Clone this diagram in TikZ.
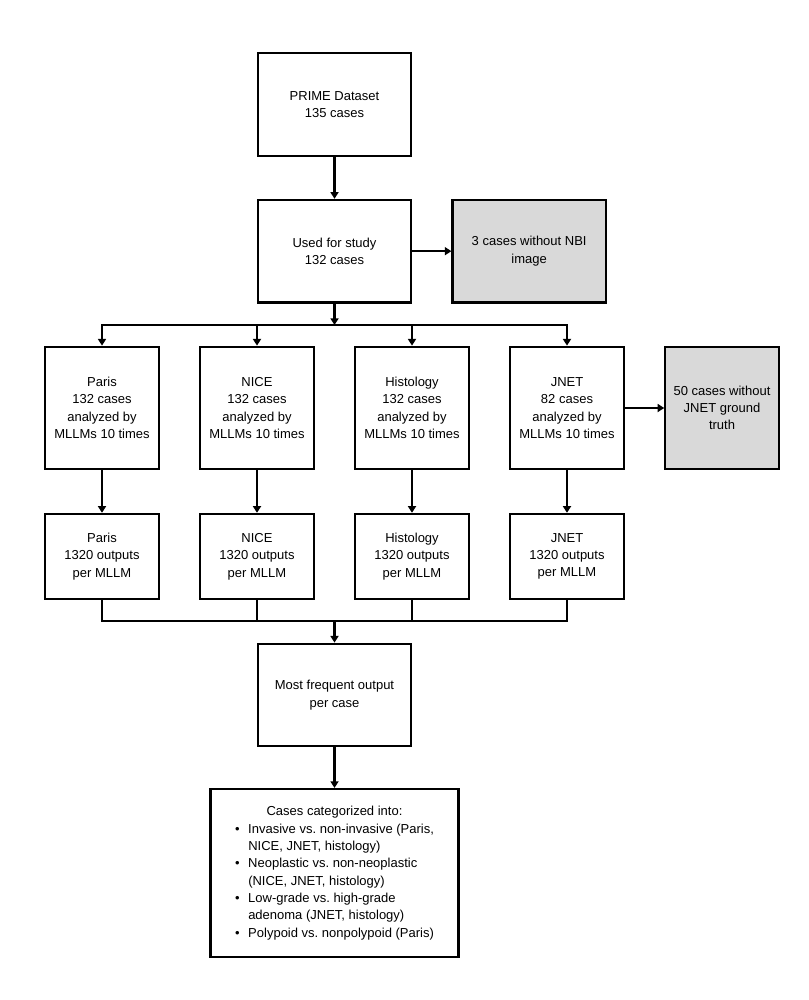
\documentclass[tikz,border=0pt]{standalone}
\usepackage{fontspec}
\setmainfont{Liberation Sans}
\usepackage{tikz}
\usetikzlibrary{arrows.meta,positioning}
\definecolor{boxgrey}{RGB}{217,217,217}
\frenchspacing

\begin{document}
\begin{tikzpicture}[>={Triangle[length=5pt,width=6pt]}, x=0.75pt, y=-0.75pt, node distance=116.25pt]
	\tikzstyle{block} = [draw, line width=1.6pt, minimum width=115pt, minimum height=77pt, align=center, inner sep=2pt, font=\fontsize{9.75pt}{13pt}\selectfont]
	\tikzstyle{column} = [block, minimum width=85pt, minimum height=92pt]
	\tikzstyle{output} = [block, minimum width=85pt, minimum height=64pt]
	\tikzstyle{excluded} = [fill=boxgrey]

	\useasboundingbox (0,0) rectangle (809,1000);

	\path[->, line width=1.6pt]

	node[block] at (334.5,104.5) (prime) {PRIME Dataset\\135 cases}
	node[block, below of=prime, node distance=110pt] (used) {Used for study\\132 cases}
	node[block, excluded, right of=used, node distance=146pt] (nonbi) {3 cases without NBI\\image}

	node[column] at (102,408) (paris) {Paris\\132 cases\\analyzed by\\MLLMs 10 times}
	node[column, right of=paris] (nice) {NICE\\132 cases\\analyzed by\\MLLMs 10 times}
	node[column, right of=nice] (histo) {Histology\\132 cases\\analyzed by\\MLLMs 10 times}
	node[column, right of=histo] (jnet) {JNET\\82 cases\\analyzed by\\MLLMs 10 times}
	node[column, excluded, right of=jnet] (nojnet) {50 cases without\\JNET ground\\truth}

	node[output, below of=paris, node distance=111.4pt] (parisout) {Paris\\1320 outputs\\per MLLM}
	node[output, below of=nice, node distance=111.4pt] (niceout) {NICE\\1320 outputs\\per MLLM}
	node[output, below of=histo, node distance=111.4pt] (histoout) {Histology\\1320 outputs\\per MLLM}
	node[output, below of=jnet, node distance=111.4pt] (jnetout) {JNET\\1320 outputs\\per MLLM}

	node[block] at (334.5,695) (frequent) {Most frequent output\\per case}
	node[block, below of=frequent, node distance=133.5pt, minimum width=186pt, minimum height=126pt, inner sep=0pt] (categories) {%
		\begin{tabular}{@{}l@{\hspace{6.5pt}}l@{}}
		\multicolumn{2}{c}{Cases categorized into:}\\
		\textbullet & Invasive vs. non-invasive (Paris,\\
		 & NICE, JNET, histology)\\
		\textbullet & Neoplastic vs. non-neoplastic\\
		 & (NICE, JNET, histology)\\
		\textbullet & Low-grade vs. high-grade\\
		 & adenoma (JNET, histology)\\
		\textbullet & Polypoid vs. nonpolypoid (Paris)
		\end{tabular}}

	(prime) edge (used)
	(used) edge (nonbi)
	(jnet) edge (nojnet)
	(paris) edge (parisout)
	(nice) edge (niceout)
	(histo) edge (histoout)
	(jnet) edge (jnetout)
	(frequent) edge (categories)
	;

	% split into the four classifications
	\coordinate (split) at (334.5,325);
	\coordinate (join) at (334.5,621);
	\draw[->, line width=1.6pt] (used) -- (split);
	\draw[->, line width=1.6pt] (split) -| (paris);
	\draw[->, line width=1.6pt] (split) -| (jnet);
	\draw[->, line width=1.6pt] (nice |- split) -- (nice);
	\draw[->, line width=1.6pt] (histo |- split) -- (histo);

	% merge the outputs
	\draw[line width=1.6pt] (parisout) |- (join) -| (jnetout);
	\draw[line width=1.6pt] (niceout) -- (niceout |- join);
	\draw[line width=1.6pt] (histoout) -- (histoout |- join);
	\draw[->, line width=1.6pt] (join) -- (frequent);

\end{tikzpicture}
\end{document}
